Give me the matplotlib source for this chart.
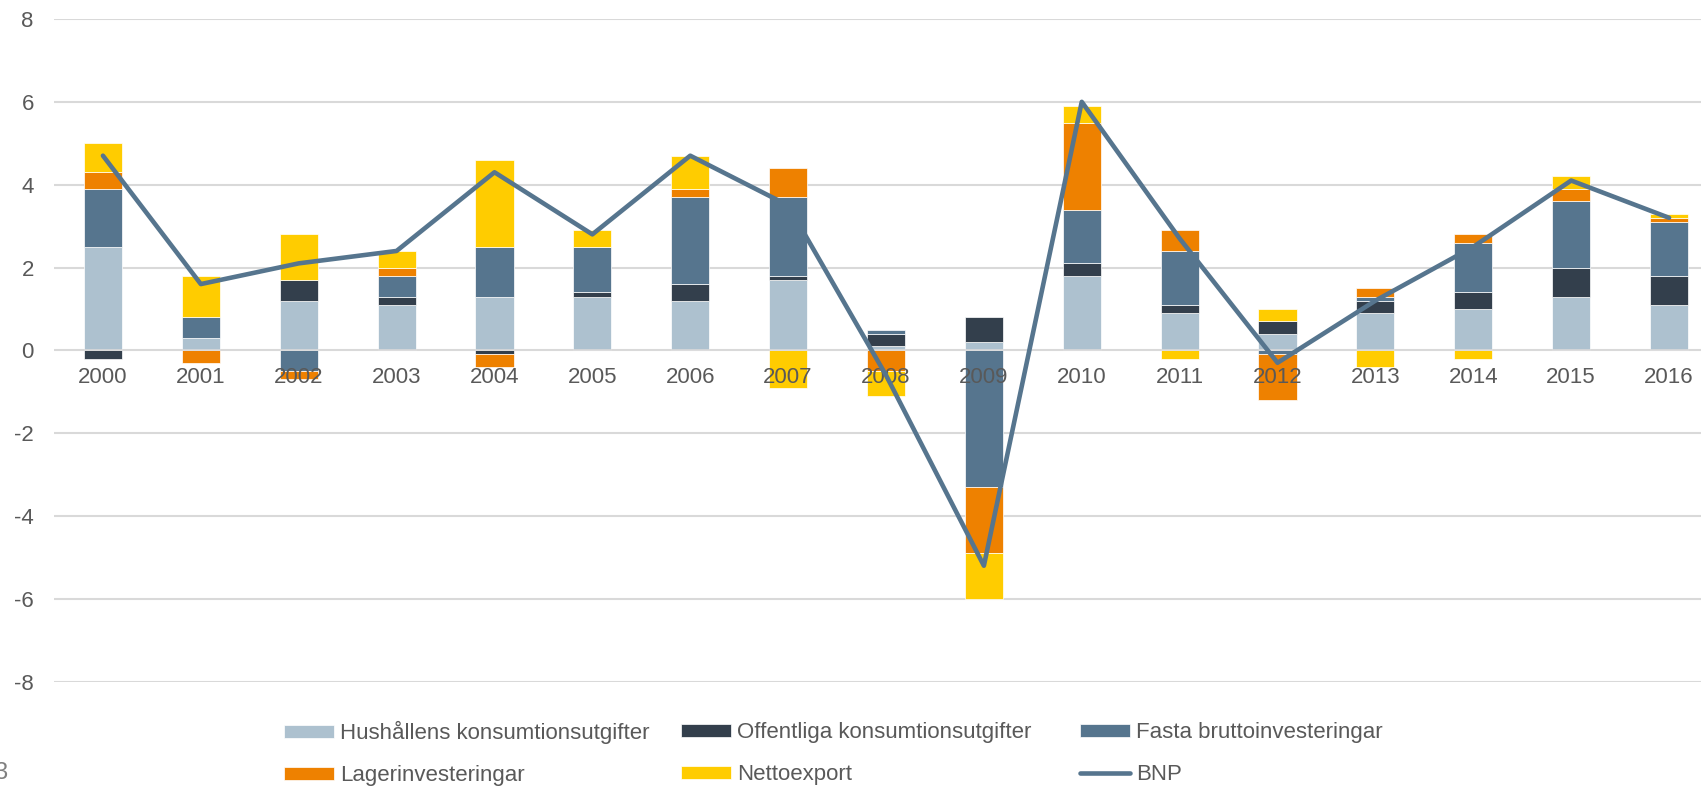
import numpy as np
import matplotlib
matplotlib.use("Agg")
import matplotlib.pyplot as plt

plt.rcParams["font.family"] = ["Liberation Sans", "DejaVu Sans"]
plt.rcParams["axes.unicode_minus"] = False

# Data (percent contribution to GDP growth)
years = [str(y) for y in range(2000, 2017)]
hushall = [2.5, 0.3, 1.2, 1.1, 1.3, 1.3, 1.2, 1.7, 0.1, 0.2, 1.8, 0.9, 0.4, 0.9, 1.0, 1.3, 1.1]
offentlig = [-0.2, 0.0, 0.5, 0.2, -0.1, 0.1, 0.4, 0.1, 0.3, 0.6, 0.3, 0.2, 0.3, 0.3, 0.4, 0.7, 0.7]
fasta = [1.4, 0.5, -0.5, 0.5, 1.2, 1.1, 2.1, 1.9, 0.1, -3.3, 1.3, 1.3, -0.1, 0.1, 1.2, 1.6, 1.3]
lager = [0.4, -0.3, -0.2, 0.2, -0.3, 0.0, 0.2, 0.7, -0.5, -1.6, 2.1, 0.5, -1.1, 0.2, 0.2, 0.3, 0.1]
netto = [0.7, 1.0, 1.1, 0.4, 2.1, 0.4, 0.8, -0.9, -0.6, -1.1, 0.4, -0.2, 0.3, -0.4, -0.2, 0.3, 0.1]
bnp = [4.7, 1.6, 2.1, 2.4, 4.3, 2.8, 4.7, 3.5, -0.6, -5.2, 6.0, 2.7, -0.3, 1.2, 2.5, 4.1, 3.2]

series = [
    ("Hushållens konsumtionsutgifter", hushall, "#adc1cf"),
    ("Offentliga konsumtionsutgifter", offentlig, "#333f4c"),
    ("Fasta bruttoinvesteringar", fasta, "#56758e"),
    ("Lagerinvesteringar", lager, "#ee8100"),
    ("Nettoexport", netto, "#ffcc00"),
]
line_color = "#56758e"
text_color = "#595959"
grid_color = "#d9d9d9"

W, H = 1701, 787
fig = plt.figure(figsize=(W / 100, H / 100), dpi=100)
# plot area runs a little past the right edge, like the source
ax = fig.add_axes([54 / W, 105.3 / H, 1664 / W, 662.7 / H])

x = np.arange(len(years))
pos_bottom = np.zeros(len(years))
neg_bottom = np.zeros(len(years))
handles = {}
for name, vals, col in series:
    v = np.array(vals)
    bottom = np.where(v >= 0, pos_bottom, neg_bottom)
    b = ax.bar(x, v, 0.39, bottom=bottom, color=col, edgecolor="white",
               linewidth=0.5, zorder=1, label=name)
    handles[name] = b
    pos_bottom += np.where(v >= 0, v, 0)
    neg_bottom += np.where(v < 0, v, 0)

ln, = ax.plot(x, bnp, color=line_color, lw=3.3, solid_joinstyle="round",
              solid_capstyle="round", zorder=3, label="BNP")
handles["BNP"] = ln

# gridlines behind bars, axis line on top
yticks = np.arange(-8, 9, 2)
for yv in yticks:
    ax.axhline(yv, color=grid_color, lw=1.5, zorder=0.5)
ax.axhline(0, color=grid_color, lw=1.2, zorder=1.2)

ax.set_xlim(-0.5, len(years) - 0.5)
ax.set_ylim(-8, 8)
ax.set_yticks(yticks)
ax.set_yticklabels([str(v) for v in yticks])
ax.set_xticks(x)
ax.set_xticklabels(years)

for s in ax.spines.values():
    s.set_visible(False)
ax.spines["bottom"].set_position(("data", 0))
ax.tick_params(axis="x", length=0, pad=12, labelsize=16, labelcolor=text_color)
ax.tick_params(axis="y", length=0, pad=14.5, labelsize=16, labelcolor=text_color)

# legend: three columns placed separately to get equal column widths
cols = [
    (284, ["Hushållens konsumtionsutgifter", "Lagerinvesteringar"]),
    (681, ["Offentliga konsumtionsutgifter", "Nettoexport"]),
    (1080, ["Fasta bruttoinvesteringar", "BNP"]),
]
for xpos, names in cols:
    fig.legend([handles[n] for n in names], names, loc="center left",
               bbox_to_anchor=(xpos / W, 33.3 / H), frameon=False,
               borderpad=0, borderaxespad=0, handlelength=2.25,
               handleheight=0.55, handletextpad=0.27, labelspacing=0.95,
               fontsize=16, labelcolor=text_color)

# cropped footnote fragment at bottom left
fig.text(7 / W, (H - 779) / H, "3", ha="right", va="baseline",
         fontsize=17, color="#808080")

fig.savefig("out.png", dpi=100)
